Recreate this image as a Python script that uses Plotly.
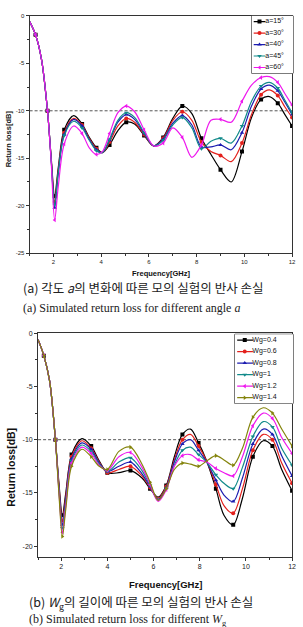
import plotly.graph_objects as go

# ---------------- data: chart (a) ----------------
FREQ_A = [1.0, 1.25, 1.5, 1.75, 1.9, 2.05, 2.2, 2.45, 2.85, 3.2,
          3.5, 3.8, 4.05, 4.35, 4.7, 5.05, 5.4, 5.8, 6.2, 6.6,
          7.0, 7.4, 7.8, 8.2, 8.6, 9.0, 9.45, 9.9, 10.3, 10.7,
          11.05, 11.4, 11.7, 12.0]
ANGLE_NAMES = ["a=15°", "a=30°", "a=40°", "a=45°", "a=60°"]
RL_A15 = [-0.6, -2.0, -4.6, -10.0, -14.8, -19.0, -16.0, -12.0, -10.5, -11.4,
          -12.8, -13.9, -14.4, -13.6, -12.1, -11.2, -11.4, -12.6, -13.7, -12.8,
          -10.8, -9.5, -10.3, -12.9, -14.6, -16.2, -17.5, -14.3, -10.7, -8.8,
          -8.5, -9.2, -10.4, -11.6]
RL_A30 = [-0.6, -2.0, -4.6, -10.0, -14.9, -19.6, -16.3, -12.3, -10.8, -11.5,
          -12.9, -14.0, -14.4, -13.3, -11.6, -10.8, -11.2, -12.5, -13.7, -12.9,
          -11.0, -10.1, -11.0, -13.3, -14.3, -14.7, -15.35, -13.4, -10.4, -8.3,
          -7.8, -8.4, -9.6, -10.7]
RL_A40 = [-0.6, -2.0, -4.6, -10.0, -15.0, -20.2, -16.6, -12.5, -10.9, -11.6,
          -13.0, -14.1, -14.4, -13.1, -11.2, -10.4, -10.9, -12.4, -13.7, -13.0,
          -11.3, -10.5, -11.5, -13.8, -13.8, -13.6, -14.1, -12.3, -9.5, -7.7,
          -7.3, -7.9, -9.1, -10.4]
RL_A45 = [-0.6, -2.0, -4.6, -10.0, -15.0, -19.9, -16.5, -12.6, -11.1, -11.8,
          -13.1, -14.2, -14.4, -13.0, -11.0, -10.2, -10.7, -12.3, -13.7, -13.1,
          -11.5, -10.7, -11.8, -14.0, -13.2, -12.9, -13.4, -11.6, -9.0, -7.4,
          -7.0, -7.6, -8.9, -10.2]
RL_A60 = [-0.6, -2.0, -4.6, -10.0, -15.2, -21.5, -18.0, -13.5, -11.6, -12.4,
          -13.9, -14.6, -14.3, -12.4, -10.2, -9.5, -10.1, -12.0, -13.7, -13.4,
          -11.8, -12.8, -14.9, -13.6, -11.0, -10.9, -11.2, -9.0, -7.3, -6.5,
          -6.4, -7.0, -8.2, -9.4]

# ---------------- data: chart (b) ----------------
FREQ_B = [1.0, 1.25, 1.5, 1.75, 1.9, 2.05, 2.2, 2.45, 2.9, 3.3,
          3.65, 4.0, 4.5, 5.0, 5.5, 5.85, 6.2, 6.55, 6.9, 7.25,
          7.6, 7.95, 8.3, 8.7, 9.05, 9.45, 9.85, 10.3, 10.75, 11.15,
          11.55, 12.0]
WG_NAMES = ["Wg=0.4", "Wg=0.6", "Wg=0.8", "Wg=1", "Wg=1.2", "Wg=1.4"]
RL_WG04 = [-0.6, -2.1, -4.5, -10.0, -14.0, -17.1, -15.0, -11.4, -9.9, -10.6,
           -12.0, -13.1, -13.1, -12.9, -13.6, -14.6, -15.4, -14.3, -11.6, -9.5,
           -9.0, -10.3, -12.0, -14.6, -17.1, -18.0, -15.5, -11.6, -10.1, -10.6,
           -12.8, -14.8]
RL_WG06 = [-0.6, -2.1, -4.5, -10.0, -14.2, -17.6, -15.3, -11.6, -10.1, -10.8,
           -12.1, -13.1, -12.8, -12.5, -13.4, -14.5, -15.5, -14.4, -11.9, -10.0,
           -9.5, -10.6, -12.0, -14.2, -16.2, -16.9, -14.6, -11.0, -9.5, -10.0,
           -12.2, -14.1]
RL_WG08 = [-0.6, -2.1, -4.5, -10.0, -14.4, -18.0, -15.6, -11.8, -10.3, -10.9,
           -12.2, -13.0, -12.5, -12.1, -13.2, -14.4, -15.6, -14.5, -12.1, -10.4,
           -10.0, -11.0, -12.1, -13.8, -15.2, -15.8, -13.6, -10.4, -9.0, -9.5,
           -11.5, -13.4]
RL_WG10 = [-0.6, -2.1, -4.5, -10.0, -14.6, -18.3, -15.9, -12.0, -10.5, -11.1,
           -12.3, -13.0, -12.1, -11.7, -12.9, -14.3, -15.7, -14.6, -12.4, -11.0,
           -10.7, -11.4, -12.1, -13.3, -14.1, -14.6, -12.6, -9.7, -8.3, -8.8,
           -10.8, -12.4]
RL_WG12 = [-0.6, -2.1, -4.5, -10.0, -14.8, -18.7, -16.2, -12.2, -10.7, -11.3,
           -12.4, -12.9, -11.6, -11.2, -12.6, -14.2, -15.8, -14.7, -12.5, -11.5,
           -11.4, -11.9, -12.1, -12.7, -13.1, -13.4, -11.6, -8.7, -7.5, -8.0,
           -9.8, -11.3]
RL_WG14 = [-0.6, -2.1, -4.5, -10.0, -15.0, -19.1, -16.5, -12.5, -10.9, -11.6,
           -12.5, -12.8, -11.1, -10.7, -12.3, -14.0, -15.7, -14.6, -12.8, -12.2,
           -12.3, -12.5, -12.0, -11.5, -11.9, -12.4, -10.8, -7.9, -7.0, -7.5,
           -9.0, -10.6]

# ---------------- ticks / reference ----------------
X_TICKS = [2, 4, 6, 8, 10, 12]
X_TICKTEXT = ["2", "4", "6", "8", "10", "12"]
Y_TICKS_A = [0, -5, -10, -15, -20, -25]
Y_TICKTEXT_A = ["0", "-5", "-10", "-15", "-20", "-25"]
Y_TICKS_B = [0, -5, -10, -15, -20]
Y_TICKTEXT_B = ["0", "-5", "-10", "-15", "-20"]
REF_LEVEL = -10

# ---------------- styling ----------------
W, H = 303, 627
def fx(p):
    return p / W
def fy(p):
    return 1 - p / H

COLORS_A = ["#000000", "#e3201c", "#1c1cb0", "#118a8a", "#ee18ee"]
SYMBOLS_A = ["square", "circle", "triangle-up", "triangle-down", "triangle-left"]
COLORS_B = ["#000000", "#e3201c", "#1c1cb0", "#118a8a", "#ee18ee", "#84840c"]
SYMBOLS_B = ["square", "circle", "triangle-up", "triangle-down", "triangle-left", "triangle-right"]
CLEAR = "rgba(0,0,0,0)"
SANS = "Liberation Sans, Arial, sans-serif"
SERIF = "Liberation Serif, Times New Roman, serif"
KR = "Noto Sans CJK KR, sans-serif"

fig = go.Figure()


def add_series(freq, vals, color, symbol, xa, ya):
    mcol = [color if i % 2 == 1 else CLEAR for i in range(len(freq))]
    fig.add_trace(go.Scatter(
        x=freq, y=vals, mode="lines+markers",
        line=dict(color=color, width=1.2, shape="spline", smoothing=0.9),
        marker=dict(symbol=symbol, size=4, color=mcol, line=dict(width=0)),
        xaxis=xa, yaxis=ya, showlegend=False, hoverinfo="skip"))


def add_legend(names, colors, symbols, xa, ya, xs, xt, fsize):
    for i, (c, s) in enumerate(zip(colors, symbols)):
        fig.add_trace(go.Scatter(
            x=xs, y=[i, i, i], mode="lines+markers",
            line=dict(color=c, width=1.2),
            marker=dict(symbol=s, size=4, color=[CLEAR, c, CLEAR], line=dict(width=0)),
            xaxis=xa, yaxis=ya, showlegend=False, hoverinfo="skip"))
    fig.add_trace(go.Scatter(
        x=[xt] * len(names), y=list(range(len(names))), text=names,
        mode="text", textposition="middle right",
        textfont=dict(size=fsize, family=SANS, color="#111"),
        xaxis=xa, yaxis=ya, showlegend=False, hoverinfo="skip"))


for vals, c, s in zip([RL_A15, RL_A30, RL_A40, RL_A45, RL_A60], COLORS_A, SYMBOLS_A):
    add_series(FREQ_A, vals, c, s, "x", "y")
for vals, c, s in zip([RL_WG04, RL_WG06, RL_WG08, RL_WG10, RL_WG12, RL_WG14], COLORS_B, SYMBOLS_B):
    add_series(FREQ_B, vals, c, s, "x2", "y2")

add_legend(ANGLE_NAMES, COLORS_A, SYMBOLS_A, "x3", "y3", [0.05, 0.19, 0.33], 0.33, 7)
add_legend(WG_NAMES, COLORS_B, SYMBOLS_B, "x4", "y4", [0.04, 0.17, 0.31], 0.30, 7)

axis_common = dict(showline=True, linecolor="#333", linewidth=1, mirror=True,
                   showgrid=False, zeroline=False, ticks="outside", tickcolor="#333",
                   tickwidth=1, fixedrange=True)

fig.update_layout(
    width=W, height=H, margin=dict(l=0, r=0, t=0, b=0),
    paper_bgcolor="white", plot_bgcolor="white",
    xaxis=dict(domain=[fx(30), fx(296)], range=[1, 12], anchor="y",
               tickvals=X_TICKS, ticktext=X_TICKTEXT, ticklen=3,
               tickfont=dict(size=6, family=SANS, color="#222"),
               minor=dict(ticks="outside", ticklen=2, dtick=1, tick0=1, tickcolor="#333"),
               **axis_common),
    yaxis=dict(domain=[fy(252), fy(12)], range=[-25, 0], anchor="x",
               tickvals=Y_TICKS_A, ticktext=Y_TICKTEXT_A, ticklen=3,
               tickfont=dict(size=6, family=SANS, color="#222"),
               minor=dict(ticks="outside", ticklen=2, dtick=2.5, tick0=0, tickcolor="#333"),
               **axis_common),
    xaxis2=dict(domain=[fx(38.6), fx(296)], range=[1, 12], anchor="y2",
                tickvals=X_TICKS, ticktext=X_TICKTEXT, ticklen=3,
                tickfont=dict(size=7, family=SANS, color="#222"),
                minor=dict(ticks="outside", ticklen=2, dtick=1, tick0=1, tickcolor="#333"),
                **axis_common),
    yaxis2=dict(domain=[fy(559), fy(333)], range=[-21, 0], anchor="x2",
                tickvals=Y_TICKS_B, ticktext=Y_TICKTEXT_B, ticklen=3,
                tickfont=dict(size=7, family=SANS, color="#222"),
                minor=dict(ticks="outside", ticklen=2, dtick=2.5, tick0=0, tickcolor="#333"),
                **axis_common),
    xaxis3=dict(domain=[fx(255), fx(297)], range=[0, 1], anchor="y3", visible=False, fixedrange=True),
    yaxis3=dict(domain=[fy(70), fy(12)], range=[4.5, -0.5], anchor="x3", visible=False, fixedrange=True),
    xaxis4=dict(domain=[fx(238), fx(297)], range=[0, 1], anchor="y4", visible=False, fixedrange=True),
    yaxis4=dict(domain=[fy(404), fy(334)], range=[5.5, -0.5], anchor="x4", visible=False, fixedrange=True),
    showlegend=False,
)

shapes = []
for xr, yr in [("x", "y"), ("x2", "y2")]:
    shapes.append(dict(type="line", xref=xr + " domain", yref=yr, x0=0, x1=1,
                       y0=REF_LEVEL, y1=REF_LEVEL, layer="below",
                       line=dict(color="#555", width=1, dash="3px,2px")))
for xr, yr in [("x3", "y3"), ("x4", "y4")]:
    shapes.append(dict(type="rect", xref=xr + " domain", yref=yr + " domain",
                       x0=0, x1=1, y0=0, y1=1, layer="below",
                       fillcolor="white", line=dict(color="#111", width=1)))
fig.update_layout(shapes=shapes)

ann = [
    dict(text="<b>Frequency[GHz]</b>", x=fx(163), y=fy(273),
         font=dict(size=7.5, family=SANS, color="#111")),
    dict(text="<b>Return loss[dB]</b>", x=fx(9), y=fy(136), textangle=-90,
         font=dict(size=7.5, family=SANS, color="#111")),
    dict(text="<b>Frequency[GHz]</b>", x=fx(168), y=fy(587),
         font=dict(size=9.5, family=SANS, color="#111")),
    dict(text="<b>Return loss[dB]</b>", x=fx(11), y=fy(468), textangle=-90,
         font=dict(size=10.5, family=SANS, color="#111")),
    dict(text="(a) 각도 <i>a</i>의 변화에 따른 모의 실험의 반사 손실", x=fx(21), y=fy(287),
         xanchor="left", font=dict(size=12.5, family=KR, color="#222")),
    dict(text="(a) Simulated return loss for different angle <i>a</i>", x=fx(21), y=fy(307),
         xanchor="left", font=dict(size=12, family=SERIF, color="#222")),
    dict(text="(b) <i>W</i><sub>g</sub>의 길이에 따른 모의 실험의 반사 손실", x=fx(27), y=fy(605),
         xanchor="left", font=dict(size=12.5, family=KR, color="#222")),
    dict(text="(b) Simulated return loss for different <i>W</i><sub>g</sub>", x=fx(27), y=fy(623),
         xanchor="left", font=dict(size=12, family=SERIF, color="#222")),
]
for a in ann:
    a.update(xref="paper", yref="paper", showarrow=False)
    a.setdefault("xanchor", "center")
    a.setdefault("yanchor", "middle")
fig.update_layout(annotations=ann)

fig.write_html("out.html")
